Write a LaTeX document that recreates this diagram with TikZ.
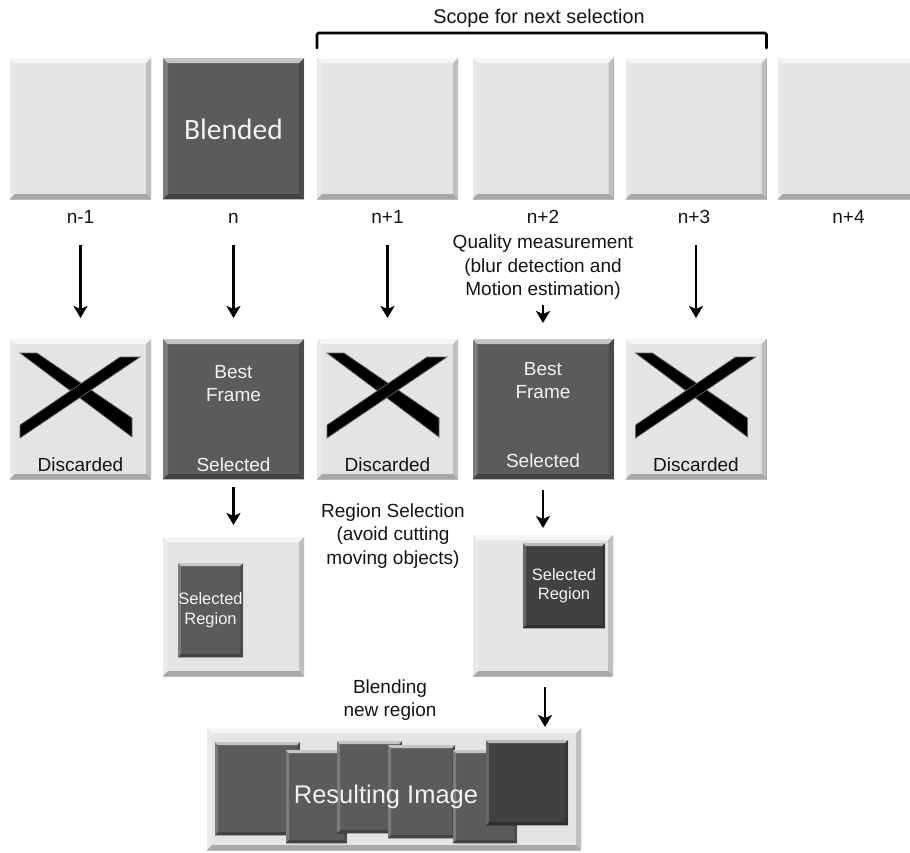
\documentclass[tikz,border=0pt]{standalone}
\usepackage{fontspec}
\setmainfont{Liberation Sans}
\newfontfamily\calfont{Carlito}
\usetikzlibrary{arrows.meta,calc}

\definecolor{paneLight}{HTML}{E4E4E4}
\definecolor{paneDark}{HTML}{5B5B5B}
\definecolor{paneDeep}{HTML}{414141}
\definecolor{inkText}{HTML}{141414}
\definecolor{paleText}{HTML}{F2F2F2}

\tikzset{
  % bevelled edges: light top/left, dark right/bottom
  bevel/.style={path picture={
    \coordinate (bNW) at (path picture bounding box.north west);
    \coordinate (bNE) at (path picture bounding box.north east);
    \coordinate (bSW) at (path picture bounding box.south west);
    \coordinate (bSE) at (path picture bounding box.south east);
    \fill[white,opacity=.65] (bNW) -- (bNE) -- ([shift={(-#1,-#1)}]bNE) -- ([shift={(#1,-#1)}]bNW) -- cycle;
    \fill[white,opacity=.2] (bNW) -- ([shift={(#1,-#1)}]bNW) -- ([shift={(#1,#1)}]bSW) -- (bSW) -- cycle;
    \fill[black,opacity=.16] (bNE) -- (bSE) -- ([shift={(-#1,#1)}]bSE) -- ([shift={(-#1,-#1)}]bNE) -- cycle;
    \fill[black,opacity=.26] (bSW) -- (bSE) -- ([shift={(-#1,#1)}]bSE) -- ([shift={(#1,#1)}]bSW) -- cycle;
    \draw[black,opacity=.25,line width=1pt] (bSW) -- (bSE) -- (bNE);
  }},
  pane/.style={draw=none, inner sep=0pt, outer sep=0pt, minimum width=141pt, minimum height=141pt},
  lightpane/.style={pane, fill=paneLight, bevel=5pt},
  darkpane/.style={pane, fill=paneDark, bevel=5pt, text=paleText},
  chip/.style={draw=none, inner sep=0pt, outer sep=0pt, fill=paneDark, bevel=3pt, text=paleText},
  deepchip/.style={chip, fill=paneDeep},
  lbl/.style={inner sep=0pt, text=inkText, font=\fontsize{19pt}{23.5pt}\selectfont, text depth=0pt},
  note/.style={inner sep=0pt, text=inkText, align=center, font=\fontsize{19pt}{23.5pt}\selectfont},
  boxtext/.style={inner sep=0pt, text=inkText, font=\fontsize{19pt}{23.5pt}\selectfont},
  flow/.style={line width=2.8pt, -{Stealth[length=12pt,width=14pt,inset=3pt]}},
  bracket/.style={line width=2.8pt, line cap=round, rounded corners=1.5pt},
  cross/.pic={
    \fill[black, draw=black!60, line width=.7pt] (-60.5,-56) -- (-43.5,-56) -- (51.5,9) -- (51.5,28) -- cycle;
    \fill[black, draw=black!60, line width=.7pt] (-60.5,16) -- (39.5,-52) -- (59.5,-52) -- (-60.5,29) -- cycle;
  }
}

\begin{document}
\begin{tikzpicture}[x=1pt,y=-1pt]
\useasboundingbox (0,0) rectangle (910,852);
\clip (0,0) rectangle (910,852);

% ---- incoming frames ----
\node[lightpane] (f0) at (80.5,128.5) {};
\node[darkpane]  (f1) at (233.5,128.5) {};
\node[inner sep=0pt, text=paleText, font=\calfont\fontsize{29.5pt}{32pt}\selectfont, anchor=base] (blend) at (233.5,139) {Blended};
\node[lightpane] (f2) at (387.5,128.5) {};
\node[lightpane] (f3) at (543,128.5) {};
\node[lightpane] (f4) at (696,128.5) {};
\node[lightpane] (f5) at (848.5,128.5) {};

\node[lbl, anchor=base] (l0) at (80.5,223) {n-1};
\node[lbl, anchor=base] (l1) at (233.5,223) {n};
\node[lbl, anchor=base] (l2) at (387.5,223) {n+1};
\node[lbl, anchor=base] (l3) at (543,223) {n+2};
\node[lbl, anchor=base] (l4) at (694,223) {n+3};
\node[lbl, anchor=base] (l5) at (848.5,223) {n+4};

% scope bracket
\node[lbl, font=\fontsize{19.8pt}{23.5pt}\selectfont, anchor=base] (scope) at (539,23) {Scope for next selection};
\draw[bracket] ([yshift=10pt]f2.north west) -- ++(0,-15) -| ([yshift=10pt]f4.north east);

\node[note, anchor=north] (quality) at (543,235) {Quality measurement\\(blur detection and\\Motion estimation)};

% ---- evaluated frames ----
\node[lightpane, minimum height=140pt] (d0) at (80.5,409) {};
\node[darkpane,  minimum height=140pt] (d1) at (233.5,409) {};
\node[lightpane, minimum height=140pt] (d2) at (387.5,409) {};
\node[darkpane,  minimum height=140pt] (d3) at (543,409) {};
\node[lightpane, minimum height=140pt] (d4) at (696,409) {};

\pic at (80.5,409) {cross};
\pic at (387.5,409) {cross};
\pic at (696,409) {cross};

\node[boxtext, anchor=base] (t0) at (80.5,471) {Discarded};
\node[boxtext, anchor=base] (t2) at (387.5,471) {Discarded};
\node[boxtext, anchor=base] (t4) at (696,471) {Discarded};

\node[boxtext, text=paleText, anchor=base] (b1) at (233.5,378) {Best};
\node[boxtext, text=paleText, anchor=base] (fr1) at (233.5,401.5) {Frame};
\node[boxtext, text=paleText, anchor=base] (sel1) at (233.5,471) {Selected};
\node[boxtext, text=paleText, anchor=base] (b3) at (543,375) {Best};
\node[boxtext, text=paleText, anchor=base] (fr3) at (543,398.5) {Frame};
\node[boxtext, text=paleText, anchor=base] (sel3) at (543,467.5) {Selected};

% ---- region selection ----
\node[lightpane, minimum height=139pt] (s1) at (233.5,606.5) {};
\node[lightpane, minimum height=141pt, minimum width=140pt] (s2) at (543,605.5) {};
\node[chip, minimum width=65pt, minimum height=94pt, align=center,
      font=\fontsize{16.5pt}{20pt}\selectfont] (r1) at (210.5,610) {Selected\\Region};
\node[deepchip, minimum width=82pt, minimum height=85pt, align=center,
      font=\fontsize{16.5pt}{18.5pt}\selectfont] (r2) at (564,585.5) {Selected\\Region};

\node[note] (regsel) at (393,536) {Region Selection\\(avoid cutting\\moving objects)};

% ---- blended result ----
\node[note] (blendnote) at (390,700) {Blending\\new region};
\node[pane, fill=paneLight, bevel=5pt, minimum width=374pt, minimum height=122pt] (res) at (394,789) {};
\node[chip, minimum width=85pt, minimum height=93pt] (p1) at (257.5,788.5) {};
\node[chip, minimum width=61pt, minimum height=93pt] (p2) at (316.5,796.5) {};
\node[chip, minimum width=65pt, minimum height=92pt] (p3) at (369.5,787) {};
\node[chip, minimum width=67pt, minimum height=93pt] (p4) at (421.5,791.5) {};
\node[chip, minimum width=64pt, minimum height=93pt] (p5) at (485,796.5) {};
\node[deepchip, minimum width=82pt, minimum height=85pt] (p6) at (527,782.5) {};
\node[inner sep=0pt, text=paleText, font=\fontsize{25.5pt}{28pt}\selectfont, anchor=base] (restext) at (386,803) {Resulting Image};

% ---- connectors ----
\draw[flow, shorten <=22pt, shorten >=21pt] (l0) -- (d0);
\draw[flow, shorten <=22pt, shorten >=21pt] (l1) -- (d1);
\draw[flow, shorten <=22pt, shorten >=21pt] (l2) -- (d2);
\draw[flow, shorten <=22pt, shorten >=21pt] (l4.south -| d4.north) -- (d4.north);
\draw[flow, shorten <=5pt, shorten >=16pt] (quality) -- (d3);
\draw[flow, shorten <=8pt, shorten >=12pt] (d1) -- (s1);
\draw[flow, shorten <=11pt, shorten >=7pt] (d3) -- (s2);
\draw[flow, shorten <=11pt, shorten >=1pt] ([xshift=2pt]s2.south) -- ([xshift=2pt]s2.south |- res.north);
\end{tikzpicture}
\end{document}
